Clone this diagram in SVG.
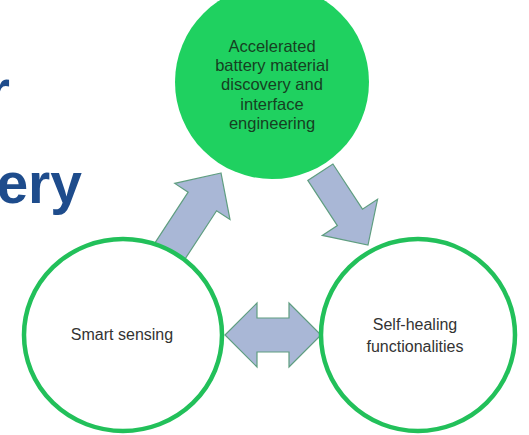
<svg xmlns="http://www.w3.org/2000/svg" width="529" height="435" viewBox="0 0 529 435">
<style>
.arrow{fill:#A9B7D6;stroke:#5F9E80;stroke-width:1.2;stroke-linejoin:miter}
.ring{fill:#FFFFFF;stroke:#22C05A;stroke-width:4.5}
.label{font-family:"Liberation Sans",Arial,sans-serif;font-size:16px;fill:#333333;text-anchor:middle}
.top{fill:#163F22;font-size:16.5px}
.head{font-family:"Liberation Sans",Arial,sans-serif;font-weight:bold;font-size:57px;fill:#1E4C8C;text-anchor:end}
</style>
<rect x="0" y="0" width="529" height="435" fill="#FFFFFF"/>
<text class="head" x="10" y="110">r</text>
<text class="head" x="82" y="203">ery</text>
<g id="connectors">
  <polygon class="arrow" transform="translate(221,173) rotate(-56.8)" points="0,0 -34,-33 -34,-17 -100,-17 -100,17 -34,17 -34,33"/>
  <polygon class="arrow" transform="translate(368,245) rotate(56.8)" points="0,0 -33,-33 -33,-15 -87,-15 -87,15 -33,15 -33,33"/>
  <polygon class="arrow" points="225,335 257,303 257,318 289,318 289,303 321,335 289,367 289,352 257,352 257,367"/>
</g>
<g id="node-top">
  <circle cx="272" cy="82" r="97" fill="#1FD160"/>
  <text class="label top" x="272" y="52">Accelerated</text>
  <text class="label top" x="272" y="71">battery material</text>
  <text class="label top" x="272" y="90">discovery and</text>
  <text class="label top" x="272" y="110">interface</text>
  <text class="label top" x="272" y="129">engineering</text>
</g>
<g id="node-left">
  <ellipse class="ring" cx="123" cy="335" rx="99" ry="96"/>
  <text class="label" x="122" y="340">Smart sensing</text>
</g>
<g id="node-right">
  <ellipse class="ring" cx="418" cy="335" rx="97" ry="96"/>
  <text class="label" x="415" y="330">Self-healing</text>
  <text class="label" x="415" y="352">functionalities</text>
</g>
</svg>
